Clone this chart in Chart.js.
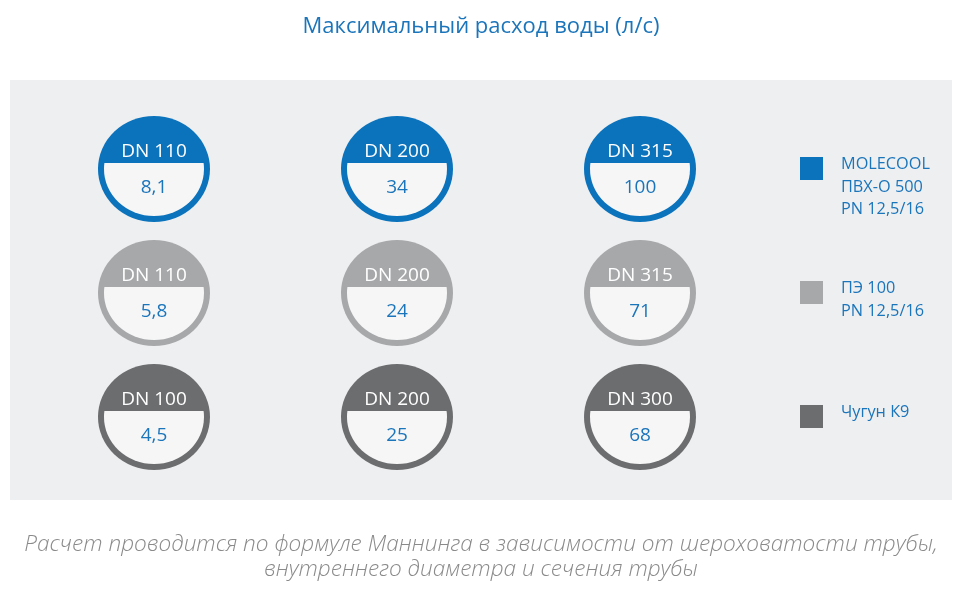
<!DOCTYPE html>
<html lang="ru">
<head>
<meta charset="utf-8">
<script src="https://cdn.jsdelivr.net/npm/chart.js@4"></script>
<style>
  html, body { margin: 0; padding: 0; background: #ffffff; }
  #wrap { width: 962px; height: 598px; }
</style>
</head>
<body>
<div id="wrap"><canvas id="chart" width="962" height="598"></canvas></div>
<script>
// данные
const title = 'Максимальный расход воды (л/с)';
const note = [
    'Расчет проводится по формуле Маннинга в зависимости от шероховатости трубы,',
    'внутреннего диаметра и сечения трубы'
];
const materials = [
    ['MOLECOOL', 'ПВХ-О 500', 'PN 12,5/16'],
    ['ПЭ 100', 'PN 12,5/16'],
    ['Чугун К9']
];
const diameters = [
    ['DN 110', 'DN 200', 'DN 315'],
    ['DN 110', 'DN 200', 'DN 315'],
    ['DN 100', 'DN 200', 'DN 300']
];
const flow = [
    [8.1, 34, 100],
    [5.8, 24, 71],
    [4.5, 25, 68]
];
const colors = ['#0b72bc', '#a7a8aa', '#6c6d6f'];

const BLUE = '#1b75bb';
const FONT = '"Open Sans", sans-serif';

function fmt(v) {
    return String(v).replace('.', ',');
}

// фон, заголовок, подпись
const frame = {
    id: 'frame',
    beforeDraw(chart) {
        const ctx = chart.ctx;
        ctx.save();
        ctx.fillStyle = '#ffffff';
        ctx.fillRect(0, 0, chart.width, chart.height);
        ctx.fillStyle = '#eeeff0';
        ctx.fillRect(10, 80, 942, 420);

        ctx.textAlign = 'center';
        ctx.textBaseline = 'alphabetic';
        ctx.fillStyle = BLUE;
        ctx.font = '22px ' + FONT;
        ctx.fillText(title, 481, 33);

        ctx.fillStyle = '#8a8a8a';
        ctx.font = 'italic 300 22.6px ' + FONT;
        ctx.fillText(note[0], 481, 551);
        ctx.fillText(note[1], 481, 576);
        ctx.restore();
    }
};

// кружки и легенда
const pipes = {
    id: 'pipes',
    afterDatasetsDraw(chart) {
        const ctx = chart.ctx;
        const rx = 56, ry = 53, ring = 6;
        chart.data.datasets.forEach((ds, di) => {
            const meta = chart.getDatasetMeta(di);
            meta.data.forEach((pt, i) => {
                const x = pt.x, y = pt.y;
                ctx.save();
                ctx.beginPath();
                ctx.ellipse(x, y, rx, ry, 0, 0, Math.PI * 2);
                ctx.fillStyle = ds.color;
                ctx.fill();

                ctx.beginPath();
                ctx.rect(x - rx, y - 6, rx * 2, ry + 6);
                ctx.clip();
                ctx.beginPath();
                ctx.ellipse(x, y, rx - ring, ry - ring, 0, 0, Math.PI * 2);
                ctx.fillStyle = '#f6f6f7';
                ctx.fill();
                ctx.restore();

                ctx.save();
                ctx.textAlign = 'center';
                ctx.textBaseline = 'alphabetic';
                ctx.font = '19px ' + FONT;
                ctx.fillStyle = '#ffffff';
                ctx.fillText(ds.names[i], x, y - 11.5);
                ctx.fillStyle = BLUE;
                ctx.fillText(fmt(ds.values[i]), x, y + 24.5);
                ctx.restore();
            });

            // легенда справа на уровне ряда
            const cy = meta.data[0].y;
            ctx.save();
            ctx.fillStyle = ds.color;
            ctx.fillRect(800, cy - 12, 23, 23);
            ctx.fillStyle = BLUE;
            ctx.font = '16.3px ' + FONT;
            ctx.textAlign = 'left';
            ctx.textBaseline = 'alphabetic';
            ds.legend.forEach((line, k) => {
                ctx.fillText(line, 841, cy + 0.5 + k * 22.5);
            });
            ctx.restore();
        });
    }
};

const datasets = flow.map((row, r) => ({
    label: materials[r].join(' '),
    data: row.map((v, c) => ({ x: c, y: r })),
    values: row,
    names: diameters[r],
    legend: materials[r],
    color: colors[r],
    pointRadius: 0,
    pointHoverRadius: 0
}));

new Chart(document.getElementById('chart'), {
    type: 'scatter',
    data: { datasets: datasets },
    options: {
        responsive: false,
        animation: false,
        events: [],
        layout: { padding: 0 },
        scales: {
            x: { display: false, min: -0.6337, max: 3.3251 },
            y: { display: false, reverse: true, min: -1.3629, max: 3.4597 }
        },
        plugins: {
            legend: { display: false },
            tooltip: { enabled: false }
        }
    },
    plugins: [frame, pipes]
});
</script>
</body>
</html>
